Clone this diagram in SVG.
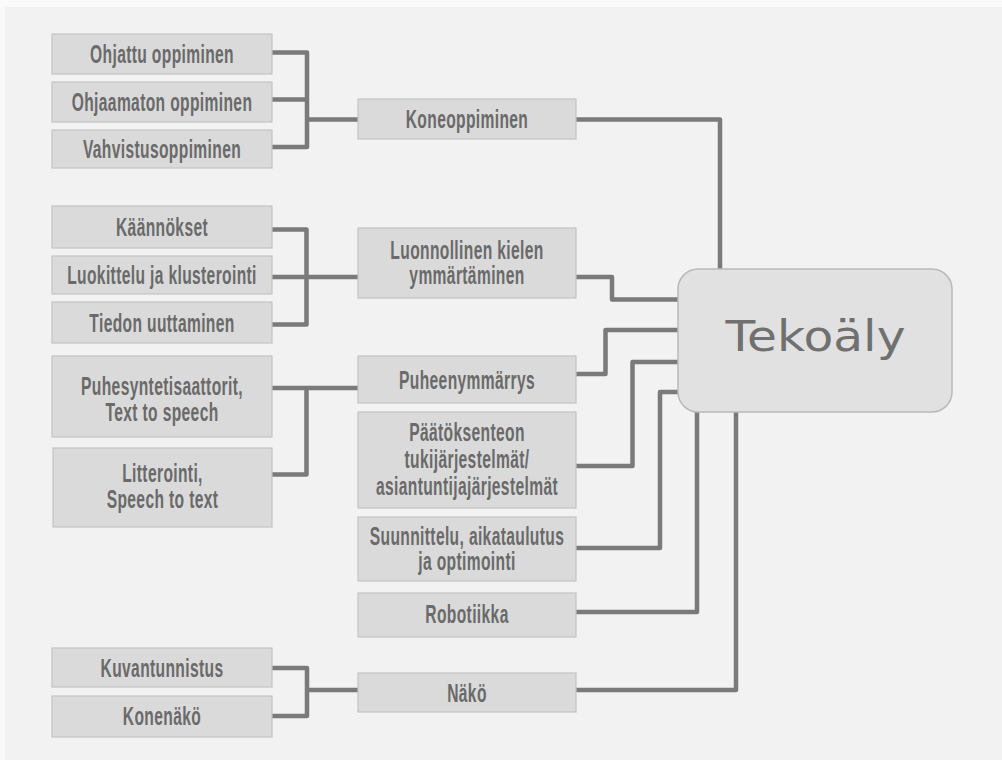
<svg xmlns="http://www.w3.org/2000/svg" width="1002" height="760" viewBox="0 0 1002 760">
<style>
.bg{fill:#f2f2f2}
.box{fill:#dadada;stroke:#c4c4c4;stroke-width:1.2}
.t{font-family:"Liberation Sans",Arial,sans-serif;font-weight:bold;font-size:26px;fill:#6a6a6a;text-anchor:middle;letter-spacing:0.6px}
.c{fill:none;stroke:#7a7a7a;stroke-width:4.5;stroke-linejoin:round}
.main{fill:#e1e1e1;stroke:#b9b9b9;stroke-width:1.5}
.mt{font-family:"DejaVu Sans",sans-serif;font-size:42px;fill:#707070;text-anchor:middle}
</style>
<rect x="0" y="0" width="1002" height="760" fill="#fafafa"/>
<rect class="bg" x="5" y="7" width="997" height="753"/>
<g id="connectors">
<path class="c" d="M272,52.5 H307 V147 H272 M272,99.5 H307 M307,119.5 H358"/>
<path class="c" d="M576,119.5 H720 V269"/>
<path class="c" d="M272,229.5 H306.5 V324.5 H272 M272,277 H358"/>
<path class="c" d="M576,277 H612 V299.5 H678"/>
<path class="c" d="M272,388 H358 M306.5,388 V474.5 H272"/>
<path class="c" d="M576,374 H605.5 V330 H678"/>
<path class="c" d="M576,466 H632.5 V362 H678"/>
<path class="c" d="M576,548 H660 V392 H678"/>
<path class="c" d="M576,612 H697 V412"/>
<path class="c" d="M272,668 H307 V716 H272 M307,690 H358"/>
<path class="c" d="M576,690 H736 V412"/>
</g>
<g id="ohjattu"><rect class="box" x="52" y="34" width="220" height="40"/><text class="t" transform="translate(162,0) scale(0.6,1)" x="0" y="63.5">Ohjattu oppiminen</text></g>
<g id="ohjaamaton"><rect class="box" x="52" y="82" width="220" height="40"/><text class="t" transform="translate(162,0) scale(0.6,1)" x="0" y="111.5">Ohjaamaton oppiminen</text></g>
<g id="vahvistus"><rect class="box" x="52" y="130" width="220" height="38"/><text class="t" transform="translate(162,0) scale(0.6,1)" x="0" y="158.5">Vahvistusoppiminen</text></g>
<g id="kaannokset"><rect class="box" x="52" y="206" width="220" height="42"/><text class="t" transform="translate(162,0) scale(0.6,1)" x="0" y="236.5">Käännökset</text></g>
<g id="luokittelu"><rect class="box" x="52" y="256" width="220" height="38"/><text class="t" transform="translate(162,0) scale(0.6,1)" x="0" y="284.5">Luokittelu ja klusterointi</text></g>
<g id="tiedon"><rect class="box" x="52" y="302" width="220" height="41"/><text class="t" transform="translate(162,0) scale(0.6,1)" x="0" y="332.5">Tiedon uuttaminen</text></g>
<g id="puhesyn"><rect class="box" x="52" y="356" width="220" height="81"/><text class="t" transform="translate(162,0) scale(0.6,1)" x="0" y="395">Puhesyntetisaattorit,<tspan x="0" dy="26">Text to speech</tspan></text></g>
<g id="litterointi"><rect class="box" x="53" y="448" width="219" height="79"/><text class="t" transform="translate(162.5,0) scale(0.6,1)" x="0" y="482.5">Litterointi,<tspan x="0" dy="26">Speech to text</tspan></text></g>
<g id="kuvantunnistus"><rect class="box" x="52" y="648" width="220" height="39"/><text class="t" transform="translate(162,0) scale(0.6,1)" x="0" y="677">Kuvantunnistus</text></g>
<g id="konenako"><rect class="box" x="52" y="696" width="220" height="41"/><text class="t" transform="translate(162,0) scale(0.6,1)" x="0" y="725.5">Konenäkö</text></g>
<g id="koneoppiminen"><rect class="box" x="358" y="99" width="218" height="40"/><text class="t" transform="translate(467,0) scale(0.6,1)" x="0" y="128.5">Koneoppiminen</text></g>
<g id="luonnollinen"><rect class="box" x="358" y="228" width="218" height="70"/><text class="t" transform="translate(467,0) scale(0.6,1)" x="0" y="259.5">Luonnollinen kielen<tspan x="0" dy="25">ymmärtäminen</tspan></text></g>
<g id="puheenymmarrys"><rect class="box" x="358" y="356" width="218" height="47"/><text class="t" transform="translate(467,0) scale(0.6,1)" x="0" y="389.5">Puheenymmärrys</text></g>
<g id="paatoksenteon"><rect class="box" x="358" y="412" width="218" height="96"/><text class="t" transform="translate(467,0) scale(0.6,1)" x="0" y="441.5">Päätöksenteon<tspan x="0" dy="26.7">tukijärjestelmät/</tspan><tspan x="0" dy="26.7">asiantuntijajärjestelmät</tspan></text></g>
<g id="suunnittelu"><rect class="box" x="358" y="517" width="218" height="64"/><text class="t" transform="translate(467,0) scale(0.6,1)" x="0" y="545.5">Suunnittelu, aikataulutus<tspan x="0" dy="25">ja optimointi</tspan></text></g>
<g id="robotiikka"><rect class="box" x="358" y="593" width="218" height="44"/><text class="t" transform="translate(467,0) scale(0.6,1)" x="0" y="623.5">Robotiikka</text></g>
<g id="nako"><rect class="box" x="358" y="673" width="218" height="39"/><text class="t" transform="translate(467,0) scale(0.6,1)" x="0" y="702.5">Näkö</text></g>
<g id="tekoaly"><rect class="main" x="678" y="269" width="274" height="143" rx="20"/><text class="mt" transform="translate(815.5,0) scale(1.16,1)" x="0" y="351">Tekoäly</text></g>
</svg>
